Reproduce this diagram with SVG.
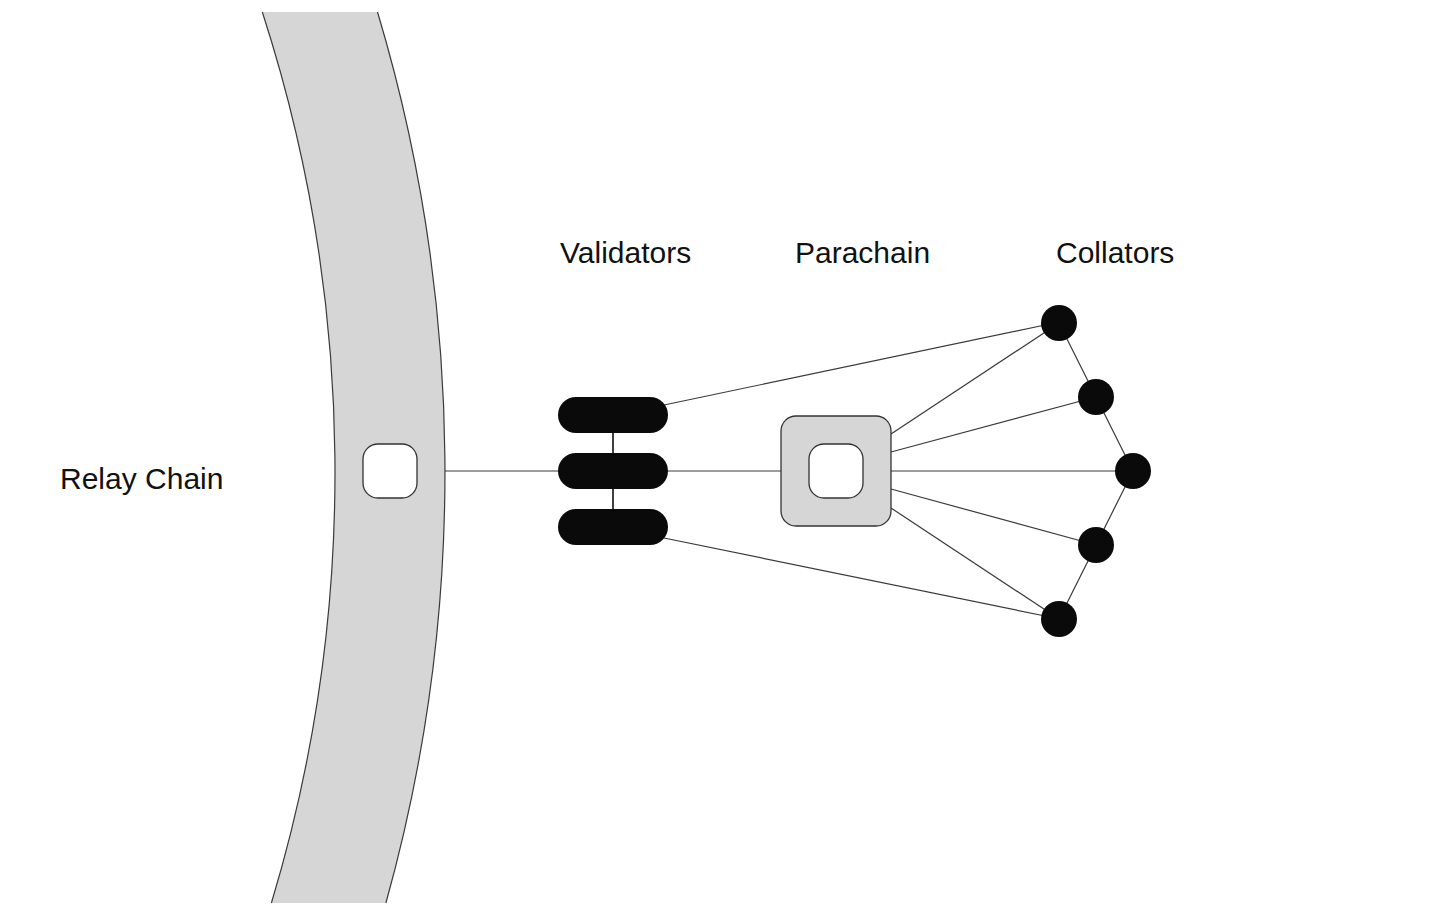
<svg xmlns="http://www.w3.org/2000/svg" width="1436" height="924" viewBox="0 0 1436 924">
<style>
.lbl{font-family:"Liberation Sans",Arial,sans-serif;font-size:30px;fill:#111}
.edge{stroke:#3a3a3a;stroke-width:1.2;fill:none}
.dark{fill:#0a0a0a}
.box{stroke:#333;stroke-width:1.3}
</style>
<rect width="1436" height="924" fill="#fff"/>
<g id="relay-chain">
<path d="M262.3 12 L377.5 12 A1602 1602 0 0 1 385.9 903 L271.4 903 A1492 1492 0 0 0 262.3 12 Z" fill="#d6d6d6"/>
<path d="M377.5 12 A1602 1602 0 0 1 385.9 903" class="edge" stroke-width="1.5"/>
<path d="M262.3 12 A1492 1492 0 0 1 271.4 903" class="edge" stroke-width="1.5"/>
<rect x="363" y="444" width="54" height="54" rx="15" fill="#fff" class="box"/>
<text x="60" y="489" class="lbl">Relay Chain</text>
</g>
<g id="connectors">
<line x1="445" y1="471" x2="781" y2="471" class="edge"/>
<line x1="613" y1="433" x2="613" y2="509" stroke="#000" stroke-width="1.5"/>
<line x1="664" y1="405" x2="1045" y2="325" class="edge"/>
<line x1="664" y1="538" x2="1045" y2="616" class="edge"/>
<line x1="891" y1="434" x2="1059" y2="323" class="edge"/>
<line x1="891" y1="452" x2="1096" y2="397" class="edge"/>
<line x1="891" y1="471" x2="1133" y2="471" class="edge"/>
<line x1="891" y1="489" x2="1096" y2="545" class="edge"/>
<line x1="891" y1="508" x2="1059" y2="619" class="edge"/>
<polyline points="1059,323 1096,397 1133,471 1096,545 1059,619" class="edge"/>
</g>
<g id="validators">
<rect x="558" y="397" width="110" height="36" rx="18" class="dark"/>
<rect x="558" y="453" width="110" height="36" rx="18" class="dark"/>
<rect x="558" y="509" width="110" height="36" rx="18" class="dark"/>
<text x="560" y="263" class="lbl">Validators</text>
</g>
<g id="parachain">
<rect x="781" y="416" width="110" height="110" rx="15" fill="#d6d6d6" class="box"/>
<rect x="809" y="444" width="54" height="54" rx="15" fill="#fff" class="box"/>
<text x="795" y="263" class="lbl">Parachain</text>
</g>
<g id="collators">
<circle cx="1059" cy="323" r="18" class="dark"/>
<circle cx="1096" cy="397" r="18" class="dark"/>
<circle cx="1133" cy="471" r="18" class="dark"/>
<circle cx="1096" cy="545" r="18" class="dark"/>
<circle cx="1059" cy="619" r="18" class="dark"/>
<text x="1056" y="263" class="lbl">Collators</text>
</g>
</svg>
